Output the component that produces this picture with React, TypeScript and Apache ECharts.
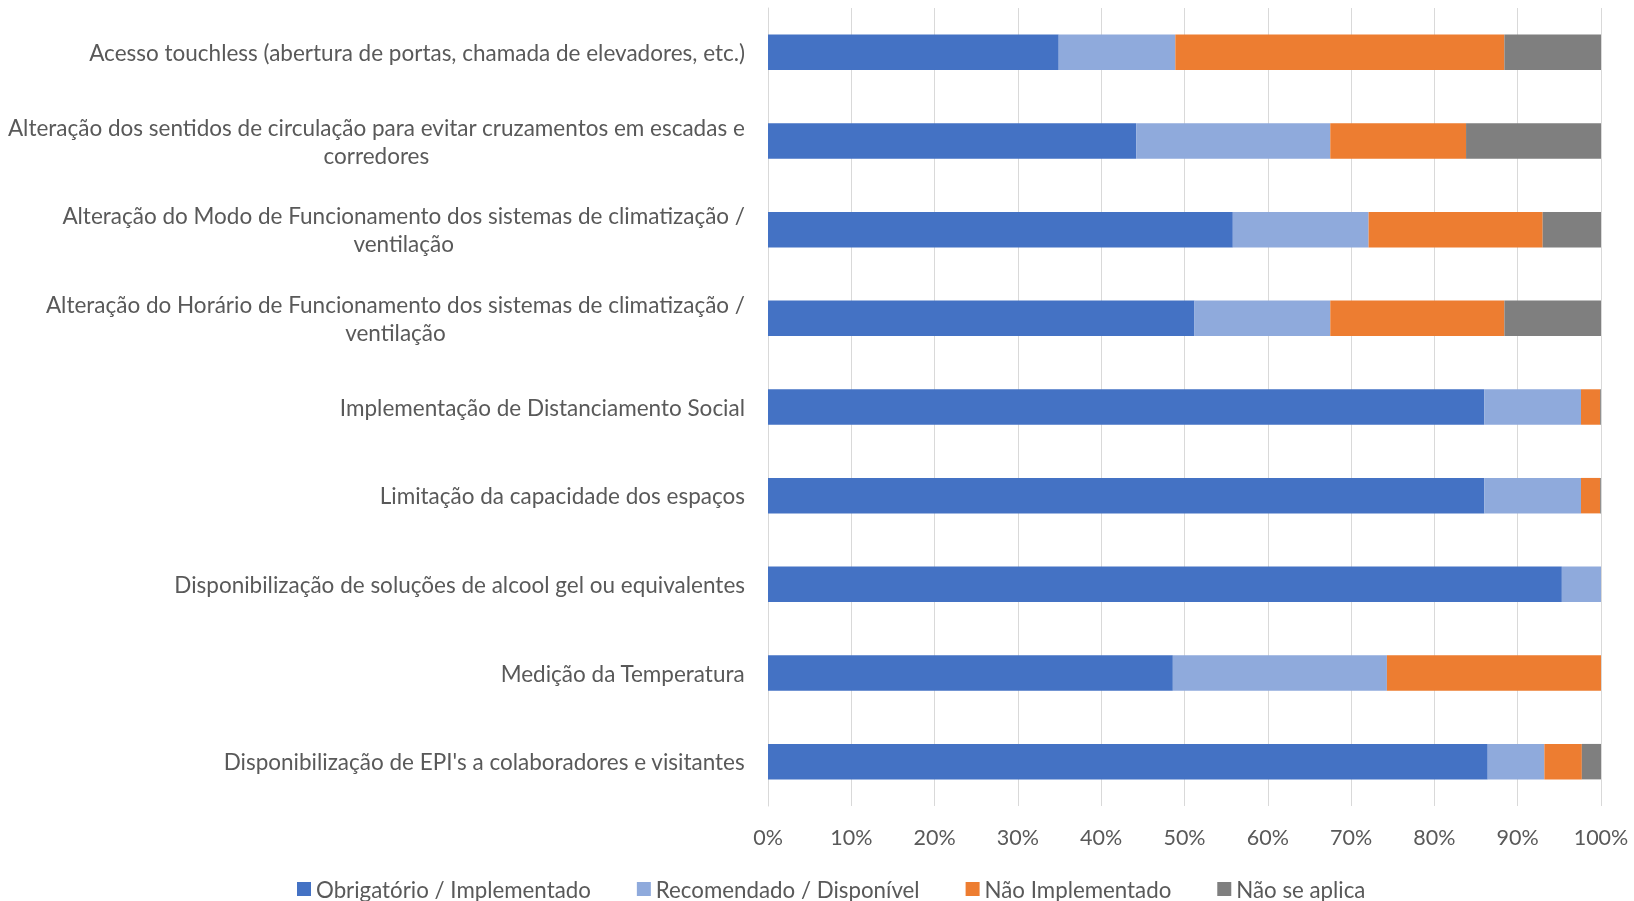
import React, { useEffect, useRef } from "react";
import * as echarts from "echarts";

const categories = [
  "Acesso touchless (abertura de portas, chamada de elevadores, etc.)",
  "Alteração dos sentidos de circulação para evitar cruzamentos em escadas e\ncorredores",
  "Alteração do Modo de Funcionamento dos sistemas de climatização /\nventilação",
  "Alteração do Horário de Funcionamento dos sistemas de climatização /\nventilação",
  "Implementação de Distanciamento Social",
  "Limitação da capacidade dos espaços",
  "Disponibilização de soluções de alcool gel ou equivalentes",
  "Medição da Temperatura",
  "Disponibilização de EPI's a colaboradores e visitantes",
];

const seriesNames = [
  "Obrigatório / Implementado",
  "Recomendado / Disponível",
  "Não Implementado",
  "Não se aplica",
];

const obrigatorio = [34.9, 44.2, 55.8, 51.2, 86.0, 86.0, 95.3, 48.6, 86.4];
const recomendado = [14.0, 23.3, 16.3, 16.3, 11.6, 11.6, 4.7, 25.7, 6.8];
const naoImplementado = [39.5, 16.3, 20.9, 20.9, 2.3, 2.3, 0, 25.7, 4.5];
const naoSeAplica = [11.6, 16.2, 7.0, 11.6, 0.1, 0.1, 0, 0, 2.3];

const xTicks = [0, 10, 20, 30, 40, 50, 60, 70, 80, 90, 100];

const colors = ["#4472C4", "#8FAADC", "#ED7D31", "#7F7F7F"];
const FONT = "Lato";
const TEXT = "#595959";
const FS = 22.5;

export default function App() {
  const ref = useRef<HTMLDivElement>(null);
  useEffect(() => {
    if (!ref.current) return;
    const chart = echarts.init(ref.current, undefined, { renderer: "svg" });
    const values = [obrigatorio, recomendado, naoImplementado, naoSeAplica];
    chart.setOption({
      animation: false,
      textStyle: { fontFamily: FONT },
      grid: { left: 768, right: 33, top: 8, bottom: 95, containLabel: false },
      legend: {
        data: seriesNames,
        left: 292,
        top: 873,
        icon: "rect",
        itemWidth: 14,
        itemHeight: 14,
        itemGap: 46,
        textStyle: { fontFamily: FONT, fontSize: 22.3, color: TEXT },
      },
      xAxis: {
        type: "value",
        min: xTicks[0],
        max: xTicks[xTicks.length - 1],
        interval: 10,
        axisLine: { show: false },
        axisTick: { show: false },
        splitLine: { lineStyle: { color: "#D9D9D9", width: 1 } },
        axisLabel: {
          formatter: "{value}%",
          color: TEXT,
          fontFamily: FONT,
          fontSize: 21.5,
          margin: 20,
        },
      },
      yAxis: {
        type: "category",
        inverse: true,
        data: categories,
        axisLine: { show: true, lineStyle: { color: "#D9D9D9" } },
        axisTick: { show: false },
        axisLabel: {
          margin: 23,
          color: TEXT,
          fontFamily: FONT,
          fontSize: FS,
          lineHeight: 28,
          formatter: (v: string) =>
            v
              .split("\n")
              .map((l) => "{c|" + l + "}")
              .join("\n"),
          rich: {
            c: {
              align: "center",
              color: TEXT,
              fontFamily: FONT,
              fontSize: FS,
              lineHeight: 28,
            },
          },
        },
      },
      series: seriesNames.map((name, i) => ({
        name,
        type: "bar",
        stack: "total",
        barWidth: "40%",
        itemStyle: { color: colors[i] },
        data: values[i],
      })),
    });
    return () => chart.dispose();
  }, []);
  return (
    <div
      ref={ref}
      style={{ position: "fixed", left: 0, top: 0, width: 1634, height: 901 }}
    />
  );
}
